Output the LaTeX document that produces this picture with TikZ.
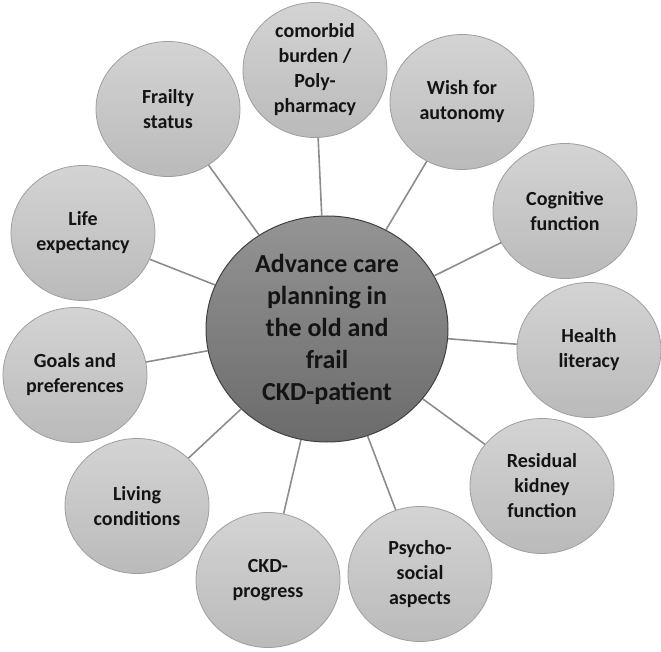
\documentclass[tikz,border=0pt]{standalone}
\usepackage{fontspec}
\setmainfont{Carlito}
\usetikzlibrary{shapes.geometric}
\begin{document}
\begin{tikzpicture}[x=1pt,y=-1pt,
  outer/.style={ellipse, minimum width=144pt, minimum height=135pt, inner sep=0pt,
    draw=black!38, line width=0.8pt, top color=black!17, bottom color=black!27,
    align=center, font=\bfseries\fontsize{20}{25}\selectfont, text=black!92},
  hub/.style={ellipse, minimum width=242pt, minimum height=226pt, inner sep=0pt,
    draw=black!75, line width=1pt, top color=black!42, bottom color=black!58,
    align=center, font=\bfseries\fontsize{26}{32}\selectfont, text=black!92},
  link/.style={draw=black!45, line width=1.6pt}]
\useasboundingbox (0,0) rectangle (661,652);
\node[hub] (hub) at (327,329) {Advance care\\planning in\\the old and\\frail\\CKD-patient};
\node[outer] (como) at (315,70) {comorbid\\burden /\\Poly-\\pharmacy};
\node[outer] (wish) at (462,102) {Wish for\\autonomy};
\node[outer] (cogn) at (565,211) {Cognitive\\function};
\node[outer] (heal) at (589,350) {Health\\literacy};
\node[outer] (resi) at (542,486) {Residual\\kidney\\function};
\node[outer] (psyc) at (420,574) {Psycho-\\social\\aspects};
\node[outer] (ckdp) at (268,580) {CKD-\\progress};
\node[outer] (livi) at (137,506) {Living\\conditions};
\node[outer] (goal) at (75,375) {Goals and\\preferences};
\node[outer] (life) at (83,233) {Life\\expectancy};
\node[outer] (frai) at (168,109) {Frailty\\status};
\foreach \n in {como,wish,cogn,heal,resi,psyc,ckdp,livi,goal,life,frai}
  \draw[link] (hub) -- (\n);
\end{tikzpicture}
\end{document}
